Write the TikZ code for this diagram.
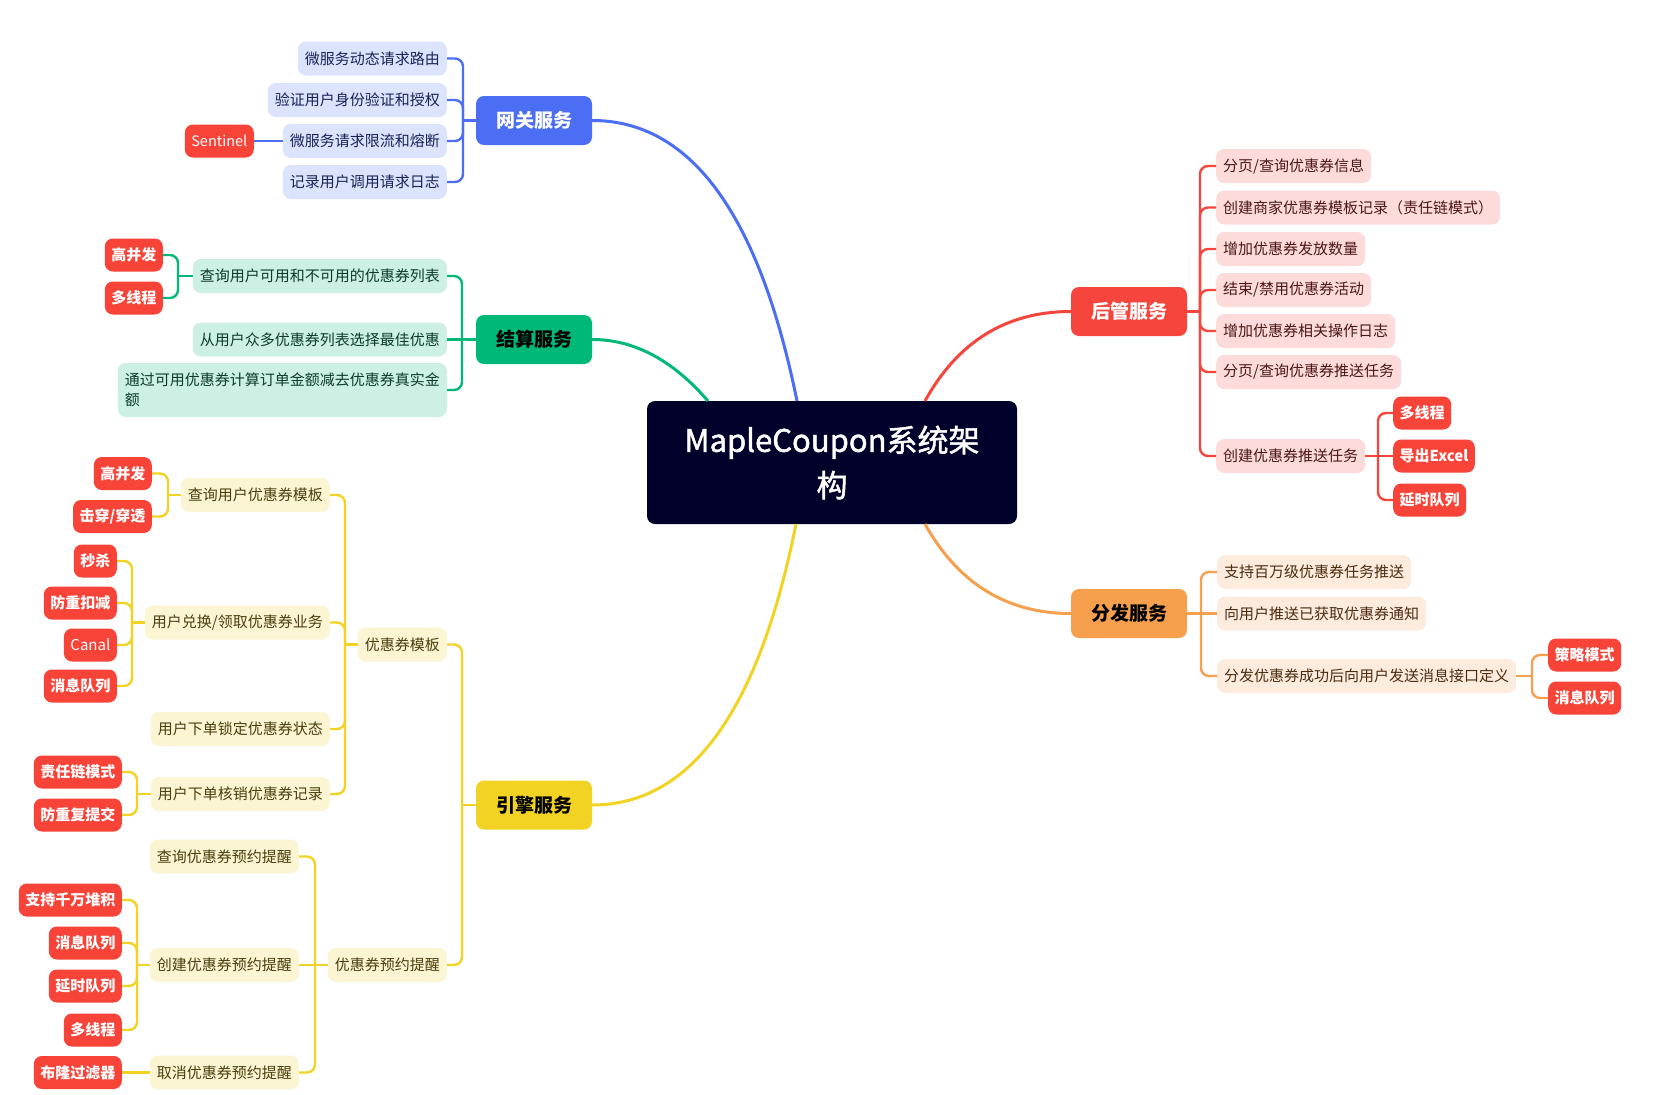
\documentclass[tikz,border=0pt]{standalone}
\usepackage{fontspec}
\setmainfont{Noto Sans CJK SC}
\newfontfamily\titlefont[FakeBold=1.5]{Noto Sans CJK SC}
\definecolor{cblue}{HTML}{4B6EF5}
\definecolor{cbluel}{HTML}{DCE3FC}
\definecolor{cbluet}{HTML}{1B2256}
\definecolor{cgreen}{HTML}{00B978}
\definecolor{cgreenl}{HTML}{CCF0E3}
\definecolor{cgreent}{HTML}{0C3B2C}
\definecolor{cyel}{HTML}{F2D323}
\definecolor{cyell}{HTML}{FCF5D4}
\definecolor{cyelt}{HTML}{4A3E0C}
\definecolor{cred}{HTML}{F5453C}
\definecolor{credl}{HTML}{FDDBDA}
\definecolor{credt}{HTML}{4B1616}
\definecolor{corg}{HTML}{F6A04D}
\definecolor{corgl}{HTML}{FDEBDD}
\definecolor{corgt}{HTML}{4A2C10}
\definecolor{ctag}{HTML}{F74338}
\definecolor{cnavy}{HTML}{00002A}
\tikzset{
  base/.style={rounded corners=8pt, inner xsep=7pt, inner ysep=0pt, minimum height=34pt, font=\fontsize{15}{20}\selectfont},
  bsub/.style={base, fill=cbluel, text=cbluet},
  gsub/.style={base, fill=cgreenl, text=cgreent},
  ysub/.style={base, fill=cyell, text=cyelt},
  rsub/.style={base, fill=credl, text=credt},
  osub/.style={base, fill=corgl, text=corgt},
  tag/.style={rounded corners=8pt, inner xsep=6.5pt, inner ysep=0pt, minimum height=33pt, fill=ctag, text=white, font=\fontsize{15}{18}\selectfont\bfseries},
  mainnode/.style={rounded corners=8pt, minimum width=116pt, minimum height=49pt, inner sep=0pt, font=\fontsize{19}{22}\selectfont\bfseries},
  centernode/.style={rounded corners=8pt, fill=cnavy, text=white, minimum width=370pt, minimum height=123pt, align=center, font=\fontsize{31}{45}\titlefont},
  mainline/.style={line width=3pt},
  subline/.style={line width=2.4pt, rounded corners=8pt},
}
\newcommand\lnk[4]{\draw[subline,#1] (#2.west -| #3,0) |- (#4.east);}
\newcommand\rnk[4]{\draw[subline,#1] (#2.east -| #3,0) |- (#4.west);}
\begin{document}
\begin{tikzpicture}[x=1pt,y=-1pt]
\useasboundingbox (0,0) rectangle (1666,1095);
\fill[white] (0,0) rectangle (1666,1095);

% center
\node[centernode] (C) at (832,462.5) {MapleCoupon系统架\\构};

% main nodes
\node[mainnode, fill=cblue, text=white] (gw) at (534,120.5) {网关服务};
\node[mainnode, fill=cgreen, text=black] (js) at (534,339.5) {结算服务};
\node[mainnode, fill=cyel, text=black] (yq) at (534,805) {引擎服务};
\node[mainnode, fill=cred, text=white] (hg) at (1129,311.5) {后管服务};
\node[mainnode, fill=corg, text=black] (ff) at (1129,613.5) {分发服务};

% main curves
\coordinate (cb) at (797,401);
\coordinate (cg) at (708,401);
\coordinate (cy) at (796,524);
\coordinate (cr) at (925,401);
\coordinate (co) at (925,524);
\draw[mainline, cblue] (gw.east) .. controls (690.7,120.5) and (759,214) .. (cb);
\draw[mainline, cgreen] (js.east) .. controls (634,339.5) and (672.7,360) .. (cg);
\draw[mainline, cyel] (cy) .. controls (758.7,711.3) and (690.7,805) .. (yq.east);
\draw[mainline, cred] (cr) .. controls (957.7,341.7) and (1006.3,311.5) .. (hg.west);
\draw[mainline, corg] (co) .. controls (958.3,583.7) and (1007,613.5) .. (ff.west);

% ---------- gateway ----------
\node[bsub, anchor=east] (g1) at (447,58.5) {微服务动态请求路由};
\node[bsub, anchor=east] (g2) at (447,100) {验证用户身份验证和授权};
\node[bsub, anchor=east] (g3) at (447,141) {微服务请求限流和熔断};
\node[bsub, anchor=east] (g4) at (447,182) {记录用户调用请求日志};
\node[tag, anchor=east, font=\fontsize{14.5}{18}\selectfont] (sen) at (254,141) {Sentinel};
\draw[subline, cblue] (gw.west) -- (gw.west -| 463,0);
\lnk{cblue}{gw}{463}{g1}
\lnk{cblue}{gw}{463}{g2}
\lnk{cblue}{gw}{463}{g3}
\lnk{cblue}{gw}{463}{g4}
\draw[subline, cblue] (g3.west) -- (sen.east);

% ---------- settlement ----------
\node[gsub, anchor=east] (j1) at (447,276) {查询用户可用和不可用的优惠券列表};
\node[gsub, anchor=east] (j2) at (447,339.5) {从用户众多优惠券列表选择最佳优惠};
\node[gsub, anchor=east, minimum height=54pt, align=left] (j3) at (447,390) {通过可用优惠券计算订单金额减去优惠券真实金\\额};
\node[tag, anchor=east] (jt1) at (163,255) {高并发};
\node[tag, anchor=east] (jt2) at (163,298) {多线程};
\draw[subline, cgreen] (js.west) -- (j2.east);
\lnk{cgreen}{js}{462}{j1}
\lnk{cgreen}{js}{462}{j3}
\draw[subline, cgreen] (j1.west) -- (j1.west -| 178,0);
\lnk{cgreen}{j1}{178}{jt1}
\lnk{cgreen}{j1}{178}{jt2}

% ---------- engine ----------
\node[ysub, anchor=east] (y1) at (447,644.5) {优惠券模板};
\node[ysub, anchor=east] (y2) at (447,965) {优惠券预约提醒};
\draw[subline, cyel] (yq.west) -- (yq.west -| 462,0);
\lnk{cyel}{yq}{462}{y1}
\lnk{cyel}{yq}{462}{y2}

\node[ysub, anchor=east] (y11) at (330,495) {查询用户优惠券模板};
\node[ysub, anchor=east] (y12) at (330,622.5) {用户兑换/领取优惠券业务};
\node[ysub, anchor=east] (y13) at (330,729) {用户下单锁定优惠券状态};
\node[ysub, anchor=east] (y14) at (330,794) {用户下单核销优惠券记录};
\draw[subline, cyel] (y1.west) -- (y1.west -| 345,0);
\lnk{cyel}{y1}{345}{y11}
\lnk{cyel}{y1}{345}{y12}
\lnk{cyel}{y1}{345}{y13}
\lnk{cyel}{y1}{345}{y14}

\node[tag, anchor=east] (a1) at (152,473.5) {高并发};
\node[tag, anchor=east] (a2) at (152,516.5) {击穿/穿透};
\draw[subline, cyel] (y11.west) -- (y11.west -| 168,0);
\lnk{cyel}{y11}{168}{a1}
\lnk{cyel}{y11}{168}{a2}

\node[tag, anchor=east] (b1) at (117,561) {秒杀};
\node[tag, anchor=east] (b2) at (117,603) {防重扣减};
\node[tag, anchor=east, font=\fontsize{15}{18}\selectfont] (b3) at (117,645) {Canal};
\node[tag, anchor=east] (b4) at (117,686) {消息队列};
\draw[subline, cyel] (y12.west) -- (y12.west -| 132,0);
\lnk{cyel}{y12}{132}{b1}
\lnk{cyel}{y12}{132}{b2}
\lnk{cyel}{y12}{132}{b3}
\lnk{cyel}{y12}{132}{b4}

\node[tag, anchor=east] (d1) at (122,772) {责任链模式};
\node[tag, anchor=east] (d2) at (122,815) {防重复提交};
\draw[subline, cyel] (y14.west) -- (y14.west -| 137,0);
\lnk{cyel}{y14}{137}{d1}
\lnk{cyel}{y14}{137}{d2}

\node[ysub, anchor=east] (y21) at (299,856.5) {查询优惠券预约提醒};
\node[ysub, anchor=east] (y22) at (299,965) {创建优惠券预约提醒};
\node[ysub, anchor=east] (y23) at (299,1072.5) {取消优惠券预约提醒};
\draw[subline, cyel] (y2.west) -- (y22.east);
\lnk{cyel}{y2}{315}{y21}
\lnk{cyel}{y2}{315}{y23}

\node[tag, anchor=east] (e1) at (122,900) {支持千万堆积};
\node[tag, anchor=east] (e2) at (122,943) {消息队列};
\node[tag, anchor=east] (e3) at (122,986) {延时队列};
\node[tag, anchor=east] (e4) at (122,1030) {多线程};
\draw[subline, cyel] (y22.west) -- (y22.west -| 137,0);
\lnk{cyel}{y22}{137}{e1}
\lnk{cyel}{y22}{137}{e2}
\lnk{cyel}{y22}{137}{e3}
\lnk{cyel}{y22}{137}{e4}

\node[tag, anchor=east] (e5) at (122,1072.5) {布隆过滤器};
\draw[subline, cyel] (y23.west) -- (e5.east);

% ---------- admin ----------
\node[rsub, anchor=west] (h1) at (1216,166) {分页/查询优惠券信息};
\node[rsub, anchor=west] (h2) at (1216,207.5) {创建商家优惠券模板记录（责任链模式）};
\node[rsub, anchor=west] (h3) at (1216,249) {增加优惠券发放数量};
\node[rsub, anchor=west] (h4) at (1216,290) {结束/禁用优惠券活动};
\node[rsub, anchor=west] (h5) at (1216,331) {增加优惠券相关操作日志};
\node[rsub, anchor=west] (h6) at (1216,372) {分页/查询优惠券推送任务};
\node[rsub, anchor=west] (h7) at (1216,456) {创建优惠券推送任务};
\draw[subline, cred] (hg.east) -- (hg.east -| 1200,0);
\rnk{cred}{hg}{1200}{h1}
\rnk{cred}{hg}{1200}{h2}
\rnk{cred}{hg}{1200}{h3}
\rnk{cred}{hg}{1200}{h4}
\rnk{cred}{hg}{1200}{h5}
\rnk{cred}{hg}{1200}{h6}
\rnk{cred}{hg}{1200}{h7}

\node[tag, anchor=west] (k1) at (1393,413) {多线程};
\node[tag, anchor=west] (k2) at (1393,456) {导出Excel};
\node[tag, anchor=west] (k3) at (1393,500) {延时队列};
\draw[subline, cred] (h7.east) -- (k2.west);
\rnk{cred}{h7}{1378}{k1}
\rnk{cred}{h7}{1378}{k3}

% ---------- distribution ----------
\node[osub, anchor=west] (f1) at (1217,572) {支持百万级优惠券任务推送};
\node[osub, anchor=west] (f2) at (1217,613.5) {向用户推送已获取优惠券通知};
\node[osub, anchor=west] (f3) at (1217,676) {分发优惠券成功后向用户发送消息接口定义};
\draw[subline, corg] (ff.east) -- (f2.west);
\rnk{corg}{ff}{1201}{f1}
\rnk{corg}{ff}{1201}{f3}

\node[tag, anchor=west] (m1) at (1548,655) {策略模式};
\node[tag, anchor=west] (m2) at (1548,698) {消息队列};
\draw[subline, corg] (f3.east) -- (f3.east -| 1532,0);
\rnk{corg}{f3}{1532}{m1}
\rnk{corg}{f3}{1532}{m2}
\end{tikzpicture}
\end{document}
